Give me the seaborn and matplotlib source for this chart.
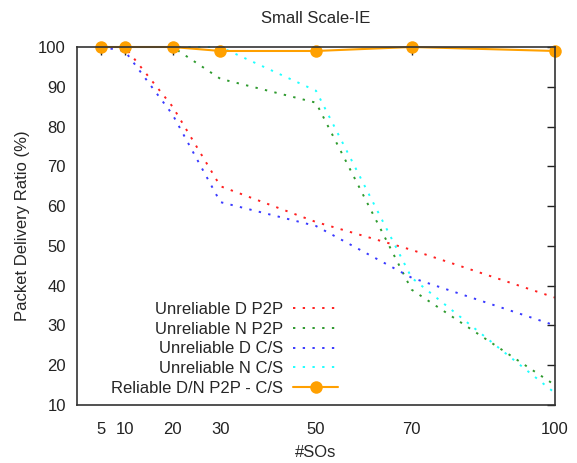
import pandas as pd
import seaborn as sns
import matplotlib
matplotlib.use("Agg")
import matplotlib.pyplot as plt

# number of SOs
sos = [5, 10, 20, 30, 50, 70, 100]

# packet delivery ratio (%) per scheme
unrel_d_p2p = [100, 100, 85, 65, 56, 49, 37]
unrel_n_p2p = [100, 100, 100, 92, 86, 39, 15]
unrel_d_cs = [100, 99, 83, 61, 55, 42, 30]
unrel_n_cs = [100, 100, 100, 100, 89, 42, 13]
reliable = [100, 100, 100, 99, 99, 100, 99]

labels = ["Unreliable D P2P", "Unreliable N P2P", "Unreliable D C/S",
          "Unreliable N C/S", "Reliable D/N P2P - C/S"]
series = [unrel_d_p2p, unrel_n_p2p, unrel_d_cs, unrel_n_cs, reliable]
colors = ["#ff2020", "#2e9a2e", "#3a3aff", "#20ffff", "#ffa000"]

sns.set_style("white")
plt.rcParams["font.family"] = ["Liberation Sans", "DejaVu Sans"]

fig = plt.figure(figsize=(5.77, 4.63), dpi=100)
ax = fig.add_axes([77 / 577, 1 - 405 / 463, (555 - 77) / 577, (405 - 47) / 463])

for lab, vals, col in zip(labels[:4], series[:4], colors[:4]):
    sns.lineplot(x=sos, y=vals, ax=ax, color=col, label=lab,
                 linewidth=1.4, dashes=False)
    ax.lines[-1].set_dashes((1.2, 3.8))

sns.lineplot(x=sos, y=reliable, ax=ax, color=colors[4], label=labels[4],
             linewidth=1.5, marker="o", markersize=9, markeredgewidth=0)
for ln in ax.lines:
    ln.set_clip_on(False)

ax.set_xlim(0, 100)
ax.set_ylim(10, 100)
ax.set_xticks(sos)
ax.set_yticks(range(10, 101, 10))
ax.tick_params(direction="in", length=6, width=1, top=True, right=True,
               labelsize=12, colors="#222222")
ax.tick_params(axis="x", pad=12)
ax.tick_params(axis="y", pad=8)
for s in ax.spines.values():
    s.set_color("#333333")
    s.set_linewidth(1.2)

ax.set_title("Small Scale-IE", fontsize=12, pad=17)
ax.set_xlabel("#SOs", fontsize=12, labelpad=6)
ax.set_ylabel("Packet Delivery Ratio (%)", fontsize=12, labelpad=6)

leg = ax.legend(loc="lower right", bbox_to_anchor=(0.557, 0.012), frameon=False,
                markerfirst=False, fontsize=12, handlelength=2.7,
                labelspacing=0.28, handletextpad=0.6, borderaxespad=0.0,
                borderpad=0.3)
for t in leg.get_texts():
    t.set_ha("right")
leg._legend_box.align = "right"
vp = leg._legend_box.get_children()[1]
for col in vp.get_children():
    col.align = "right"

fig.savefig("out.png", dpi=100)
